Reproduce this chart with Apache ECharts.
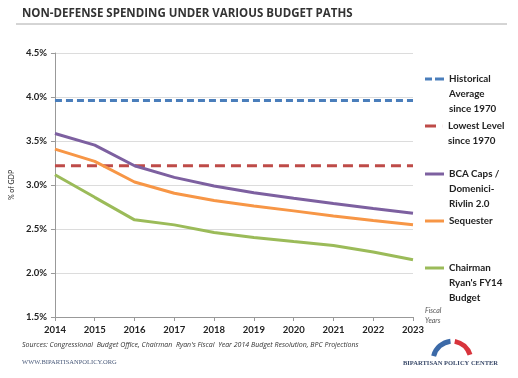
<!DOCTYPE html>
<html><head><meta charset="utf-8">
<script src="https://cdn.jsdelivr.net/npm/echarts@6/dist/echarts.min.js"></script>
<style>html,body{margin:0;padding:0;background:#fff}#c{width:518px;height:378px}</style>
</head><body><div id="c"></div>
<script>
const years = ['2014','2015','2016','2017','2018','2019','2020','2021','2022','2023'];
const historical = [3.96,3.96,3.96,3.96,3.96,3.96,3.96,3.96,3.96,3.96];
const lowest = [3.22,3.22,3.22,3.22,3.22,3.22,3.22,3.22,3.22,3.22];
const bca = [3.585,3.453,3.219,3.087,2.989,2.913,2.849,2.789,2.732,2.679];
const sequester = [3.408,3.268,3.034,2.906,2.823,2.762,2.706,2.649,2.596,2.547];
const ryan = [3.117,2.860,2.604,2.547,2.460,2.404,2.358,2.313,2.238,2.151];
const names = ['Historical\nAverage\nsince 1970','Lowest Level\nsince 1970','BCA Caps /\nDomenici-\nRivlin 2.0','Sequester','Chairman\nRyan\'s FY14\nBudget'];

const chart = echarts.init(document.getElementById('c'));
const F = 'Lato, Open Sans, sans-serif';
function mk(name, data, color, dash){
  return {name, type:'line', data, showSymbol:false, symbol:'none', animation:false,
    lineStyle:{color, width:3, type: dash ? dash : 'solid'}, itemStyle:{color}};
}
const icons = [
  'path://M0,0h7v3h-7z M10,0h9v3h-9z',
  'path://M2,0h11v3h-11z M19,0h0.1v3h-0.1z',
  'path://M0,0h19v3h-19z','path://M0,0h19v3h-19z','path://M0,0h19v3h-19z'
];
const colors = ['#4a7ebb','#be4b48','#7d60a0','#f79646','#9bbb59'];
const firstLineY = [79,126,174,221,268];
const LH = 15;
const legends = names.map((n,i)=>{
  const k = n.split('\n').length - 1;
  const N = 2*k + 1;
  return {
    data:[{name:n, icon:icons[i]}], left:425, padding:0, itemWidth:19, itemHeight:3, itemGap:0,
    top: firstLineY[i] - N*LH/2,
    formatter: s => '\n'.repeat(k) + s,
    textStyle:{fontFamily:F, fontWeight:'bold', fontSize:9.8, color:'#222', lineHeight:LH},
    selectedMode:false
  };
});
chart.setOption({
  animation:false,
  grid:{left:52, right:105, top:53, bottom:61},
  legend: legends,
  xAxis:{type:'category', data:years, boundaryGap:false,
    axisLine:{lineStyle:{color:'#999'}}, axisTick:{show:true, length:4, lineStyle:{color:'#999'}},
    axisLabel:{fontFamily:F, fontWeight:'bold', fontSize:9.5, color:'#222', margin:8, interval:0}},
  yAxis:{type:'value', min:1.5, max:4.5, interval:0.5,
    name:'% of GDP', nameLocation:'middle', nameGap:37, nameRotate:90,
    nameTextStyle:{fontFamily:F, fontSize:7, color:'#222'},
    axisLine:{show:true, lineStyle:{color:'#999'}}, axisTick:{show:true, length:4, lineStyle:{color:'#999'}},
    splitLine:{lineStyle:{color:'#dcdcdc'}},
    axisLabel:{fontFamily:F, fontWeight:'bold', fontSize:9.5, color:'#222', margin:8,
      formatter:v=>v.toFixed(1)+'%'}},
  series:[
    mk(names[0], historical, colors[0], [7,4]),
    mk(names[1], lowest, colors[1], [10,6]),
    mk(names[2], bca, colors[2]),
    mk(names[3], sequester, colors[3]),
    mk(names[4], ryan, colors[4])
  ],
  graphic:[
    {type:'text', left:22, top:8, style:{text:'NON-DEFENSE SPENDING UNDER VARIOUS BUDGET PATHS', font:'bold 11.5px Open Sans, sans-serif', fill:'#333'}},
    {type:'line', shape:{x1:16,y1:24,x2:507,y2:24}, style:{stroke:'#aaa', lineWidth:1}},
    {type:'text', left:425, top:306, style:{text:'Fiscal\nYears', font:'italic 7px '+F, fill:'#555', lineHeight:10}},
    {type:'text', left:22, top:341, style:{text:'Sources: Congressional  Budget Office, Chairman  Ryan\'s Fiscal  Year 2014 Budget Resolution, BPC Projections', font:'italic 7px Open Sans, sans-serif', fill:'#333'}},
    {type:'text', left:22, top:359, style:{text:'WWW.BIPARTISANPOLICY.ORG', font:'6.5px Liberation Serif, serif', fill:'#4a5a7a'}},
    {type:'text', left:403, top:360, style:{text:'BIPARTISAN POLICY CENTER', font:'bold 6.5px Liberation Serif, serif', fill:'#3a4a6a'}},
    {type:'arc', shape:{cx:453, cy:361, r:20, startAngle:Math.PI*1.08, endAngle:Math.PI*1.46}, style:{stroke:'#3c6aa8', lineWidth:5, fill:null}},
    {type:'arc', shape:{cx:451, cy:361, r:20, startAngle:Math.PI*1.56, endAngle:Math.PI*1.9}, style:{stroke:'#d8343c', lineWidth:5, fill:null}}
  ]
});
</script></body></html>
